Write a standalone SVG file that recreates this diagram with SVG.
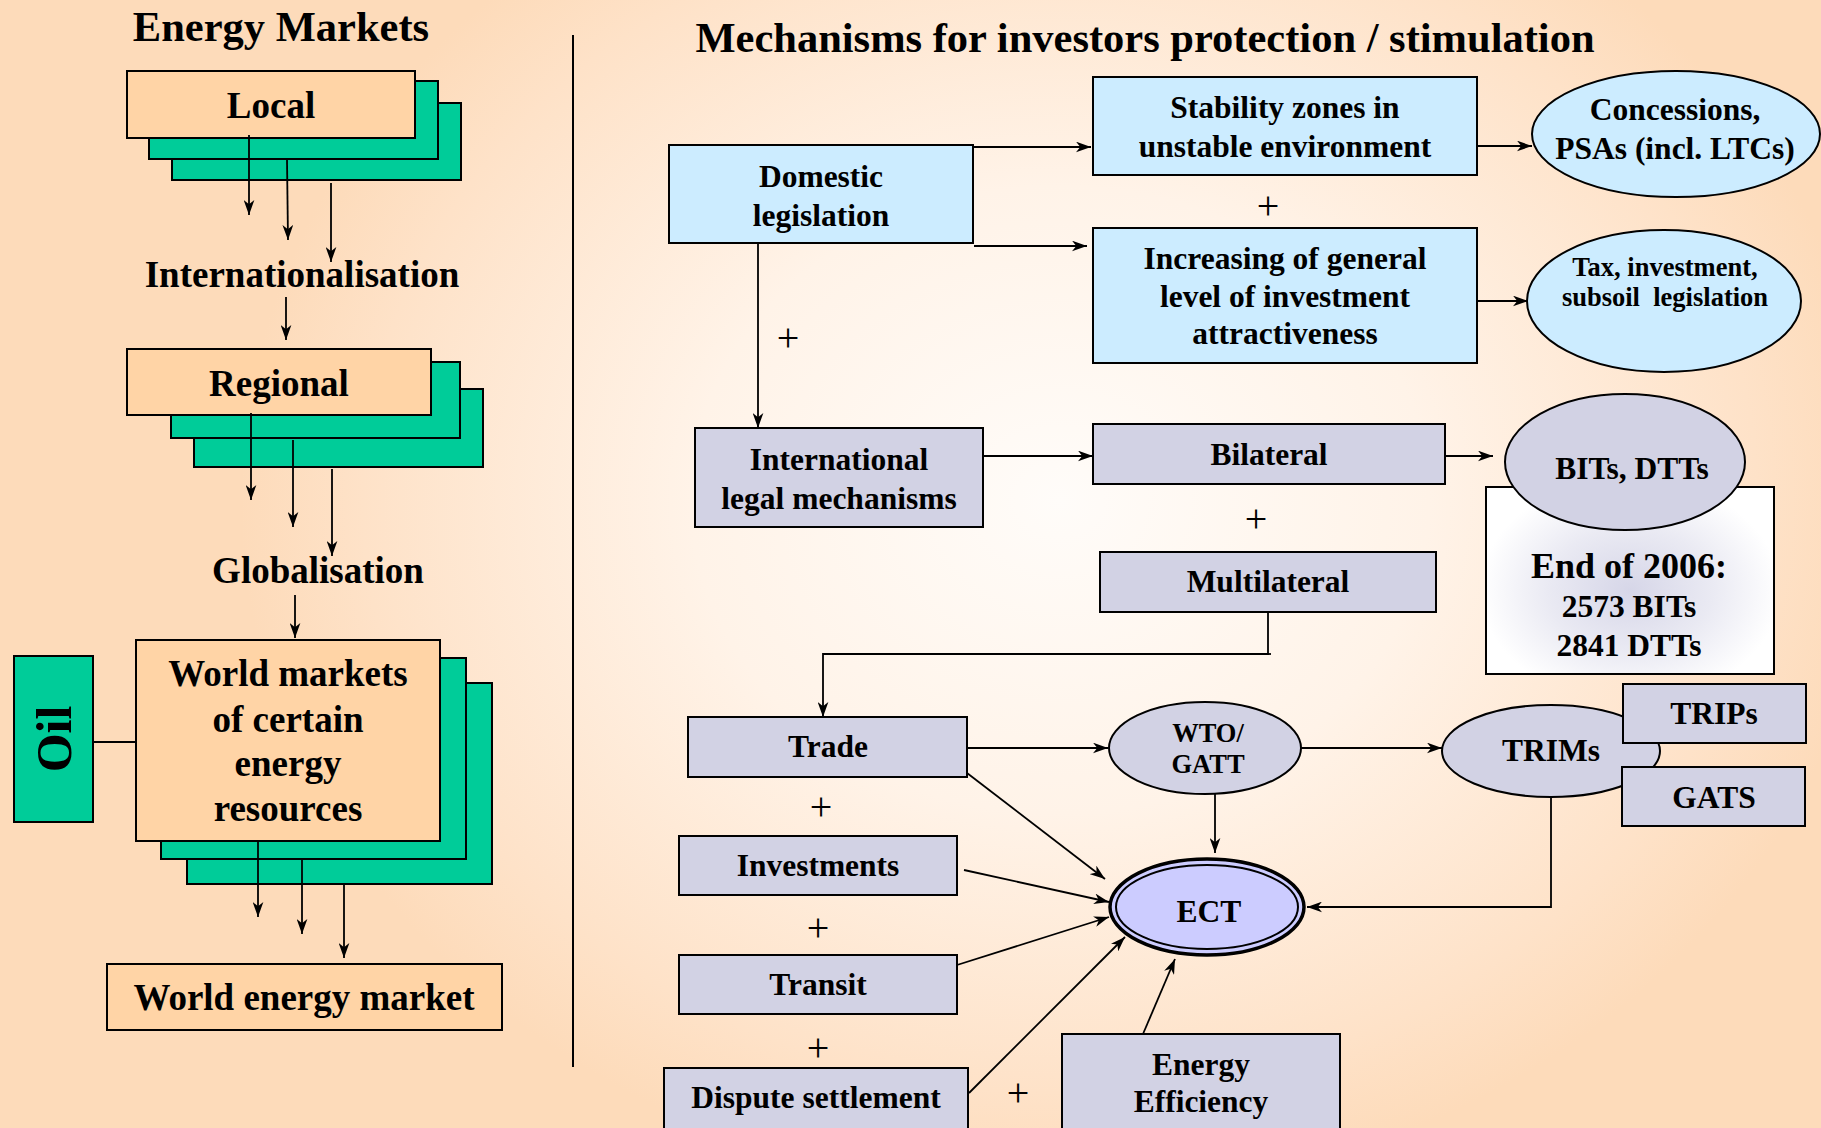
<svg xmlns="http://www.w3.org/2000/svg" width="1821" height="1128" viewBox="0 0 1821 1128">
<defs>
<radialGradient id="bg" gradientUnits="userSpaceOnUse" cx="1060" cy="500" r="820" gradientTransform="translate(1060 500) scale(1 0.85) translate(-1060 -500)">
<stop offset="0" stop-color="#FFFCF9"/>
<stop offset="0.45" stop-color="#FFF3E8"/>
<stop offset="0.85" stop-color="#FEE2C8"/>
<stop offset="1" stop-color="#FDDBBA"/>
</radialGradient>
<radialGradient id="glow" gradientUnits="userSpaceOnUse" cx="1630" cy="590" r="150" gradientTransform="translate(1630 590) scale(1 0.75) translate(-1630 -590)">
<stop offset="0" stop-color="#D6D6E8"/>
<stop offset="0.55" stop-color="#EAEAF3"/>
<stop offset="1" stop-color="#FFFFFF"/>
</radialGradient>
<marker id="ah" viewBox="0 0 14 10" refX="14" refY="5" markerWidth="15" markerHeight="11" markerUnits="userSpaceOnUse" orient="auto">
<path d="M0,0 L14,5 L0,10 L4,5 z" fill="#000"/>
</marker>
</defs>
<style>
text{font-family:"Liberation Serif","Times New Roman",serif;font-weight:bold;fill:#000;text-anchor:middle}
.t42{font-size:42.5px}
.t37{font-size:37px}
.t31{font-size:31.5px}
.t26{font-size:26.5px}
.plus{font-weight:normal;font-size:40px}
.peach{fill:#FFD4A6;stroke:#000;stroke-width:2}
.green{fill:#00CC99;stroke:#000;stroke-width:2}
.blue{fill:#CCECFF;stroke:#000;stroke-width:2}
.lav{fill:#D2D2E4;stroke:#000;stroke-width:2}
.con{fill:none;stroke:#000;stroke-width:1.8}
.arr{fill:none;stroke:#000;stroke-width:1.8;marker-end:url(#ah)}
</style>
<rect x="0" y="0" width="1821" height="1128" fill="url(#bg)"/>

<text class="t42" x="281" y="41">Energy Markets</text>
<text class="t42" x="1145" y="52">Mechanisms for investors protection / stimulation</text>
<line x1="573" y1="35" x2="573" y2="1067" stroke="#000" stroke-width="2"/>

<g id="local">
<rect class="green" x="172" y="103" width="289" height="77"/>
<rect class="green" x="149" y="81" width="289" height="78"/>
<rect class="peach" x="127" y="71" width="288" height="67"/>
<text class="t37" x="271" y="118">Local</text>
</g>
<text id="internationalisation" class="t37" x="302" y="287">Internationalisation</text>
<g id="regional">
<rect class="green" x="194" y="389" width="289" height="78"/>
<rect class="green" x="171" y="362" width="289" height="76"/>
<rect class="peach" x="127" y="349" width="304" height="66"/>
<text class="t37" x="279" y="396">Regional</text>
</g>
<text id="globalisation" class="t37" x="318" y="583">Globalisation</text>
<g id="world-markets">
<rect class="green" x="187" y="683" width="305" height="201"/>
<rect class="green" x="161" y="658" width="305" height="201"/>
<rect class="peach" x="136" y="640" width="304" height="201"/>
<text class="t37" x="288" y="686">World markets</text>
<text class="t37" x="288" y="732">of certain</text>
<text class="t37" x="288" y="776">energy</text>
<text class="t37" x="288" y="821">resources</text>
</g>
<g id="oil">
<rect class="green" x="14" y="656" width="79" height="166"/>
<text transform="translate(71 739) rotate(-90)" style="font-size:50px">Oil</text>
</g>
<g id="world-energy-market">
<rect class="peach" x="107" y="964" width="395" height="66"/>
<text class="t37" x="304" y="1010">World energy market</text>
</g>

<g id="domestic">
<rect class="blue" x="669" y="145" width="304" height="98"/>
<text class="t31" x="821" y="187">Domestic</text>
<text class="t31" x="821" y="226">legislation</text>
</g>
<g id="stability">
<rect class="blue" x="1093" y="77" width="384" height="98"/>
<text class="t31" x="1285" y="118">Stability zones in</text>
<text class="t31" x="1285" y="157">unstable environment</text>
</g>
<text class="plus" x="1268" y="219">+</text>
<g id="increasing">
<rect class="blue" x="1093" y="228" width="384" height="135"/>
<text class="t31" x="1285" y="269">Increasing of general</text>
<text class="t31" x="1285" y="307">level of investment</text>
<text class="t31" x="1285" y="344">attractiveness</text>
</g>
<g id="concessions">
<ellipse cx="1676" cy="134" rx="144" ry="63" fill="#CCECFF" stroke="#000" stroke-width="2"/>
<text class="t31" x="1675" y="120">Concessions,</text>
<text class="t31" x="1675" y="159">PSAs (incl. LTCs)</text>
</g>
<g id="tax">
<ellipse cx="1664" cy="301" rx="137" ry="71" fill="#CCECFF" stroke="#000" stroke-width="2"/>
<text class="t26" x="1665" y="276">Tax, investment,</text>
<text class="t26" x="1665" y="306" xml:space="preserve">subsoil  legislation</text>
</g>
<text class="plus" x="788" y="351">+</text>
<g id="international">
<rect class="lav" x="695" y="428" width="288" height="99"/>
<text class="t31" x="839" y="470">International</text>
<text class="t31" x="839" y="509">legal mechanisms</text>
</g>
<g id="bilateral">
<rect class="lav" x="1093" y="424" width="352" height="60"/>
<text class="t31" x="1269" y="465">Bilateral</text>
</g>
<text class="plus" x="1256" y="532">+</text>
<g id="multilateral">
<rect class="lav" x="1100" y="552" width="336" height="60"/>
<text class="t31" x="1268" y="592">Multilateral</text>
</g>
<g id="end2006">
<rect x="1486" y="487" width="288" height="187" fill="url(#glow)" stroke="#000" stroke-width="2"/>
<text x="1629" y="578" style="font-size:36px">End of 2006:</text>
<text class="t31" x="1629" y="617">2573 BITs</text>
<text class="t31" x="1629" y="656">2841 DTTs</text>
</g>
<g id="bits">
<ellipse cx="1625" cy="462" rx="120" ry="68" fill="#D2D2E4" stroke="#000" stroke-width="2"/>
<text class="t31" x="1632" y="479">BITs, DTTs</text>
</g>
<g id="trade">
<rect class="lav" x="688" y="717" width="279" height="60"/>
<text class="t31" x="828" y="757">Trade</text>
</g>
<text class="plus" x="821" y="820">+</text>
<g id="investments">
<rect class="lav" x="679" y="836" width="278" height="59"/>
<text class="t31" x="818" y="876">Investments</text>
</g>
<text class="plus" x="818" y="941">+</text>
<g id="transit">
<rect class="lav" x="679" y="955" width="278" height="59"/>
<text class="t31" x="818" y="995">Transit</text>
</g>
<text class="plus" x="818" y="1061">+</text>
<g id="dispute">
<rect class="lav" x="664" y="1068" width="304" height="62"/>
<text class="t31" x="816" y="1108">Dispute settlement</text>
</g>
<text class="plus" x="1018" y="1106">+</text>
<g id="energy-efficiency">
<rect class="lav" x="1062" y="1034" width="278" height="100"/>
<text class="t31" x="1201" y="1075">Energy</text>
<text class="t31" x="1201" y="1112">Efficiency</text>
</g>
<g id="wto">
<ellipse cx="1205" cy="748" rx="96" ry="46" fill="#D2D2E4" stroke="#000" stroke-width="2"/>
<text class="t26" x="1208" y="742">WTO/</text>
<text class="t26" x="1208" y="773">GATT</text>
</g>
<g id="trims">
<ellipse cx="1551" cy="751" rx="109" ry="46" fill="#D2D2E4" stroke="#000" stroke-width="2"/>
<text class="t31" x="1551" y="761">TRIMs</text>
</g>
<g id="trips">
<rect class="lav" x="1623" y="684" width="183" height="59"/>
<text class="t31" x="1714" y="724">TRIPs</text>
</g>
<g id="gats">
<rect class="lav" x="1622" y="767" width="183" height="59"/>
<text class="t31" x="1714" y="808">GATS</text>
</g>
<g id="ect">
<ellipse cx="1207" cy="907" rx="97" ry="48" fill="#CCCCFF" stroke="#000" stroke-width="3.5"/>
<ellipse cx="1207" cy="907" rx="91" ry="42" fill="#CCCCFF" stroke="#000" stroke-width="2"/>
<text class="t31" x="1209" y="922">ECT</text>
</g>

<g id="connectors">
<line class="arr" x1="249" y1="135" x2="249" y2="215"/>
<line class="arr" x1="287" y1="160" x2="288" y2="240"/>
<line class="arr" x1="331" y1="183" x2="331" y2="262"/>
<line class="arr" x1="286" y1="297" x2="286" y2="340"/>
<line class="arr" x1="251" y1="413" x2="251" y2="500"/>
<line class="arr" x1="293" y1="440" x2="293" y2="527"/>
<line class="arr" x1="332" y1="469" x2="332" y2="556"/>
<line class="arr" x1="295" y1="595" x2="295" y2="638"/>
<line class="arr" x1="258" y1="841" x2="258" y2="917"/>
<line class="arr" x1="302" y1="859" x2="302" y2="934"/>
<line class="arr" x1="344" y1="883" x2="344" y2="958"/>
<line class="con" x1="93" y1="742" x2="136" y2="742"/>

<line class="arr" x1="973" y1="147" x2="1091" y2="147"/>
<line class="arr" x1="974" y1="246" x2="1087" y2="246"/>
<line class="arr" x1="1478" y1="146" x2="1532" y2="146"/>
<line class="arr" x1="1478" y1="301" x2="1528" y2="301"/>
<line class="arr" x1="758" y1="243" x2="758" y2="428"/>
<line class="arr" x1="983" y1="456" x2="1093" y2="456"/>
<line class="arr" x1="1445" y1="456" x2="1493" y2="456"/>
<polyline class="arr" points="1268,612 1268,654 823,654 823,717"/>
<line class="con" x1="1268" y1="654" x2="1271" y2="654"/>
<line class="arr" x1="967" y1="748" x2="1108" y2="748"/>
<line class="arr" x1="1301" y1="748" x2="1442" y2="748"/>
<line class="arr" x1="1215" y1="794" x2="1215" y2="853"/>
<polyline class="arr" points="1551,797 1551,907 1307,907"/>
<line class="arr" x1="967" y1="773" x2="1105" y2="879"/>
<line class="arr" x1="964" y1="870" x2="1109" y2="902"/>
<line class="arr" x1="957" y1="965" x2="1109" y2="917"/>
<line class="arr" x1="969" y1="1093" x2="1125" y2="937"/>
<line class="arr" x1="1143" y1="1034" x2="1175" y2="959"/>
</g>
</svg>
